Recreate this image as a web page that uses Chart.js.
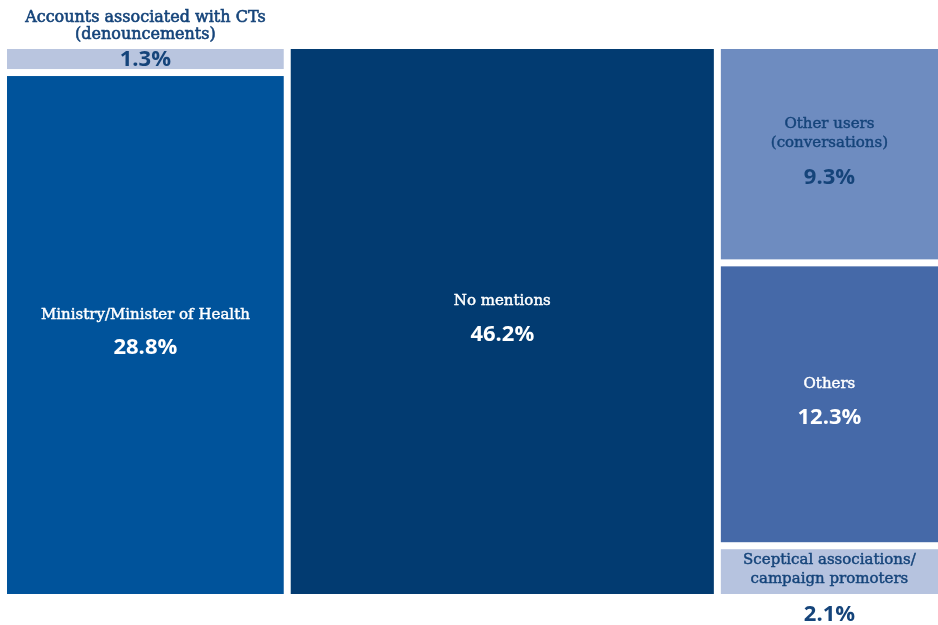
<!DOCTYPE html>
<html>
<head>
<meta charset="utf-8">
<script src="https://cdn.jsdelivr.net/npm/chart.js@4.4.0/dist/chart.umd.min.js"></script>
<style>
  html, body { margin: 0; padding: 0; background: #fff; }
  #wrap { width: 938px; height: 625px; position: relative; }
</style>
</head>
<body>
<div id="wrap"><canvas id="myChart"></canvas></div>
<script>
// DATA ----------------------------------------------------------------
var labels = [
  ['Accounts associated with CTs', '(denouncements)'],
  ['Ministry/Minister of Health'],
  ['No mentions'],
  ['Other users', '(conversations)'],
  ['Others'],
  ['Sceptical associations/', 'campaign promoters']
];
var values = [1.3, 28.8, 46.2, 9.3, 12.3, 2.1];
// which column of the treemap each tile sits in
var columns = [0, 0, 1, 2, 2, 2];

// STYLE ---------------------------------------------------------------
var fills = ['#b9c5df', '#00539b', '#023b71', '#6e8cc0', '#4569a8', '#b6c3df'];
var textColors = ['#15447a', '#ffffff', '#ffffff', '#15447a', '#ffffff', '#15447a'];
// where the text goes: inside, label above the tile, or value below it
var placement = ['above', 'inside', 'inside', 'inside', 'inside', 'below'];
var GAP = 7;

// build the tile layout in value units (x and y both 0..100)
function layoutTiles() {
  var colTotals = [];
  columns.forEach(function (c, i) { colTotals[c] = (colTotals[c] || 0) + values[i]; });
  var tiles = [], xStart = 0, colX = [];
  colTotals.forEach(function (t, c) { colX[c] = xStart; xStart += t; });
  var yUsed = [];
  values.forEach(function (v, i) {
    var c = columns[i];
    var y0 = yUsed[c] || 0;
    var h = v / colTotals[c] * 100;
    tiles.push({ x0: colX[c], x1: colX[c] + colTotals[c], y0: y0, y1: y0 + h, i: i });
    yUsed[c] = y0 + h;
  });
  return tiles;
}

// label text: thin stroke to give the book weight a bit more body
function labelText(ctx, txt, x, y) {
  ctx.fillText(txt, x, y);
  ctx.strokeText(txt, x, y);
}

var treemapPlugin = {
  id: 'treemap',
  afterDatasetsDraw: function (chart) {
    var ctx = chart.ctx, xs = chart.scales.x, ys = chart.scales.y;
    var tiles = layoutTiles();
    tiles.forEach(function (t) {
      var left = xs.getPixelForValue(t.x0), right = xs.getPixelForValue(t.x1);
      var top = ys.getPixelForValue(t.y0), bottom = ys.getPixelForValue(t.y1);
      if (t.x0 > 0) left += GAP / 2;
      if (t.x1 < 99.99) right -= GAP / 2;
      if (t.y0 > 0) top += GAP / 2;
      if (t.y1 < 99.99) bottom -= GAP / 2;
      ctx.save();
      ctx.fillStyle = fills[t.i];
      ctx.fillRect(left, top, right - left, bottom - top);

      var cx = (left + right) / 2, cy = (top + bottom) / 2;
      var lines = labels[t.i];
      var lh = 19;
      ctx.textAlign = 'center';
      ctx.textBaseline = 'middle';
      ctx.fillStyle = textColors[t.i];
      ctx.strokeStyle = textColors[t.i];
      ctx.lineWidth = 0.45;
      var pct = values[t.i].toFixed(1) + '%';
      var labelFont = '15px "DejaVu Serif", serif';
      var pctFont = 'bold 22px "Open Sans", sans-serif';

      if (placement[t.i] === 'inside') {
        var firstY = cy - 20 - (lines.length - 1) * lh / 2 - (lines.length - 1) * 1;
        ctx.font = labelFont;
        lines.forEach(function (l, k) { labelText(ctx, l, cx, firstY + k * lh); });
        ctx.font = pctFont;
        ctx.fillText(pct, cx, cy + 13 + (lines.length - 1) * 11);
      } else if (placement[t.i] === 'above') {
        ctx.font = '16px "DejaVu Serif", serif';
        ctx.lineWidth = 0.6;
        lines.forEach(function (l, k) { labelText(ctx, l, cx, top - 31 + k * 17); });
        ctx.font = pctFont;
        ctx.fillText(pct, cx, cy + 1);
      } else {
        ctx.font = labelFont;
        lines.forEach(function (l, k) { labelText(ctx, l, cx, cy - 11 + k * lh); });
        ctx.fillStyle = '#15447a';
        ctx.font = pctFont;
        ctx.fillText(pct, cx, bottom + 21);
      }
      ctx.restore();
    });
  }
};

var ctx = document.getElementById('myChart').getContext('2d');
var myChart = new Chart(ctx, {
  type: 'scatter',
  data: { datasets: [{ data: [] }] },
  options: {
    responsive: true,
    maintainAspectRatio: false,
    animation: false,
    layout: { padding: { left: 7, right: 0, top: 49, bottom: 31 } },
    scales: {
      x: { type: 'linear', min: 0, max: 100, display: false },
      y: { type: 'linear', min: 0, max: 100, reverse: true, display: false }
    },
    plugins: {
      legend: { display: false },
      tooltip: { enabled: false }
    }
  },
  plugins: [treemapPlugin]
});
</script>
</body>
</html>
